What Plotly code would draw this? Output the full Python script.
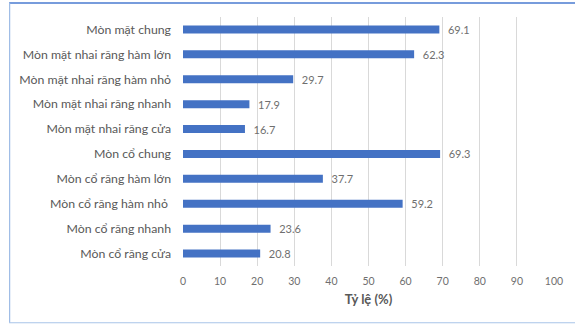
import plotly.graph_objects as go

categories = [
    "Mòn mặt chung",
    "Mòn mặt nhai răng hàm lớn",
    "Mòn mặt nhai răng hàm nhỏ",
    "Mòn mặt nhai răng nhanh",
    "Mòn mặt nhai răng cửa",
    "Mòn cổ chung",
    "Mòn cổ răng hàm lớn",
    "Mòn cổ răng hàm nhỏ ",
    "Mòn cổ răng nhanh",
    "Mòn cổ răng cửa",
]
values = [69.1, 62.3, 29.7, 17.9, 16.7, 69.3, 37.7, 59.2, 23.6, 20.8]
x_ticks = [0, 10, 20, 30, 40, 50, 60, 70, 80, 90, 100]
x_title = "Tỷ lệ (%)"

FONT = "Lato"
GRAY = "#595959"
LGRAY = "#6f6f6f"

fig = go.Figure(
    go.Bar(
        x=values,
        y=categories,
        orientation="h",
        marker=dict(color="#4472C4", line=dict(width=0)),
        width=0.32,
        texttemplate="\u00a0\u00a0%{x:.1f}",
        textposition="outside",
        constraintext="none",
        cliponaxis=False,
        textfont=dict(family=FONT, size=11, color=LGRAY),
    )
)

L, R, T, B = 182.5, 18, 16.5, 58.5

fig.update_layout(
    width=575,
    height=325,
    margin=dict(l=L, r=R, t=T, b=B),
    paper_bgcolor="white",
    plot_bgcolor="white",
    showlegend=False,
    font=dict(family=FONT, color=GRAY),
    xaxis=dict(
        range=[0, 100],
        tickvals=x_ticks,
        showgrid=True,
        gridcolor="#d9d9d9",
        gridwidth=1,
        zeroline=False,
        showline=False,
        ticks="",
        ticklabelstandoff=7,
        tickfont=dict(family=FONT, size=10.5, color=LGRAY),
        title=dict(text=f"<b>{x_title}</b>", font=dict(family=FONT, size=13, color=GRAY), standoff=9),
        fixedrange=True,
    ),
    yaxis=dict(
        autorange="reversed",
        showgrid=False,
        showline=False,
        ticks="",
        ticklabelstandoff=11,
        tickfont=dict(family=FONT, size=12.3, color=GRAY),
        fixedrange=True,
    ),
)


def px_x(p):
    return (p - L) / (575 - L - R)


def px_y(p):
    return 1 - (p - T) / (325 - T - B)


fig.update_layout(shapes=[
    dict(type="line", xref="paper", yref="paper", x0=px_x(7), x1=px_x(580), y0=px_y(2.5), y1=px_y(2.5),
         line=dict(color="#4a7bd0", width=1.5), layer="above"),
    dict(type="line", xref="paper", yref="paper", x0=px_x(7.5), x1=px_x(7.5), y0=px_y(2.5), y1=px_y(323.5),
         line=dict(color="#9dbbe6", width=1.2), layer="above"),
    dict(type="line", xref="paper", yref="paper", x0=px_x(7), x1=px_x(580), y0=px_y(323.5), y1=px_y(323.5),
         line=dict(color="#a9c4e8", width=1.2), layer="above"),
])

fig.write_html("out.html", config={"displayModeBar": False})
